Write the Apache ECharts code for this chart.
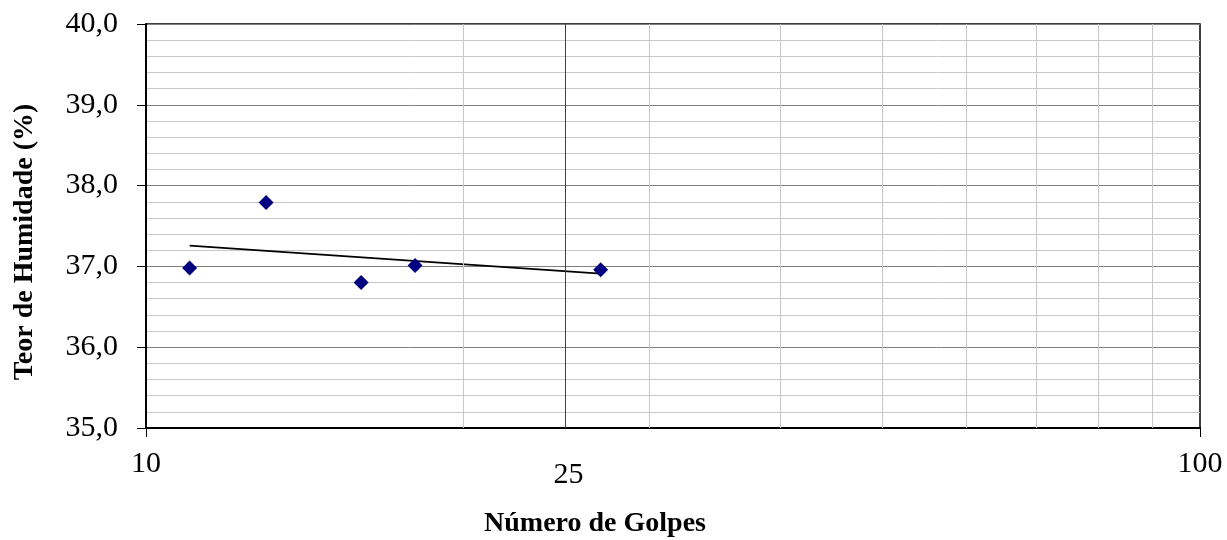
<!DOCTYPE html>
<html>
<head>
<meta charset="utf-8">
<script src="https://cdn.jsdelivr.net/npm/echarts@6/dist/echarts.min.js"></script>
<style>
  html, body { margin: 0; padding: 0; background: #fff; }
  #chart { width: 1227px; height: 540px; }
</style>
</head>
<body>
<div id="chart"></div>
<script>
// Ensaio de limite de liquidez: número de golpes vs. teor de humidade
const golpes = [11, 13, 16, 18, 27];
const humidade = [36.98, 37.79, 36.80, 37.01, 36.96];
const xTickLabels = ['10', '100'];
const refGolpes = 25;
const xMinorLines = [20, 30, 40, 50, 60, 70, 80, 90];

// Linha de tendência logarítmica (mínimos quadrados: y = a + b·ln x)
const lnX = golpes.map(v => Math.log(v));
const n = golpes.length;
const mx = lnX.reduce((s, v) => s + v, 0) / n;
const my = humidade.reduce((s, v) => s + v, 0) / n;
let sxy = 0, sxx = 0;
for (let i = 0; i < n; i++) {
  sxy += (lnX[i] - mx) * (humidade[i] - my);
  sxx += (lnX[i] - mx) * (lnX[i] - mx);
}
const b = sxy / sxx;
const a = my - b * mx;
const xFirst = Math.min(...golpes), xLast = Math.max(...golpes);
const trend = [[xFirst, a + b * Math.log(xFirst)], [xLast, a + b * Math.log(xLast)]];

const FONT = 'Liberation Serif';
const chart = echarts.init(document.getElementById('chart'));
chart.setOption({
  animation: false,
  backgroundColor: '#ffffff',
  grid: {
    left: 146, right: 27, top: 24, bottom: 112,
    show: true, borderColor: '#000', borderWidth: 1.5, backgroundColor: 'transparent'
  },
  xAxis: {
    type: 'log', logBase: 10, min: 10, max: 100,
    axisLine: { show: true, lineStyle: { color: '#000', width: 2 } },
    axisTick: { show: true, length: 9, lineStyle: { color: '#000', width: 1 } },
    axisLabel: {
      margin: 21, color: '#000', fontFamily: FONT, fontSize: 30,
      formatter: v => xTickLabels.includes(String(Math.round(v))) ? String(Math.round(v)) : ''
    },
    splitLine: { show: false }
  },
  yAxis: {
    type: 'value', min: 35, max: 40, interval: 1,
    axisLine: { show: true, lineStyle: { color: '#000', width: 2 } },
    axisTick: { show: true, length: 9, lineStyle: { color: '#000', width: 1 } },
    axisLabel: {
      margin: 28, color: '#000', fontFamily: FONT, fontSize: 30,
      formatter: v => v.toFixed(1).replace('.', ',')
    },
    splitLine: { show: true, lineStyle: { color: '#808080', width: 1 } },
    minorTick: { show: false, splitNumber: 5 },
    minorSplitLine: { show: true, lineStyle: { color: '#c8c8c8', width: 1 } }
  },
  graphic: [
    {
      type: 'text', x: 595, y: 524,
      style: {
        text: 'Número de Golpes', x: 0, y: 0,
        fontFamily: FONT, fontSize: 28, fontWeight: 'bold', fill: '#000',
        align: 'center', verticalAlign: 'middle'
      }
    },
    {
      type: 'text', x: 25, y: 242, rotation: Math.PI / 2,
      style: {
        text: 'Teor de Humidade (%)', x: 0, y: 0,
        fontFamily: FONT, fontSize: 28, fontWeight: 'bold', fill: '#000',
        align: 'center', verticalAlign: 'middle'
      }
    }
  ],
  series: [
    {
      // divisões secundárias do eixo logarítmico
      type: 'line', data: [], silent: true,
      markLine: {
        silent: true, symbol: 'none', animation: false,
        label: { show: false },
        lineStyle: { color: '#c8c8c8', width: 1, type: 'solid' },
        data: xMinorLines.map(v => ({ xAxis: v }))
      }
    },
    {
      // referência dos 25 golpes
      type: 'line', data: [], silent: true, z: 3,
      markLine: {
        silent: true, symbol: 'none', animation: false,
        lineStyle: { color: '#404040', width: 1, type: 'solid' },
        label: {
          show: true, position: 'start', distance: 32, offset: [3, 0],
          formatter: String(refGolpes),
          color: '#000', fontFamily: FONT, fontSize: 30
        },
        data: [{ xAxis: refGolpes }]
      }
    },
    {
      type: 'line', data: trend, z: 4,
      symbol: 'none', silent: true,
      lineStyle: { color: '#000', width: 1.8 }
    },
    {
      type: 'scatter', z: 5,
      data: golpes.map((g, i) => [g, humidade[i]]),
      symbol: 'diamond', symbolSize: 15,
      itemStyle: { color: '#000080', opacity: 1 }
    }
  ]
});
</script>
</body>
</html>
